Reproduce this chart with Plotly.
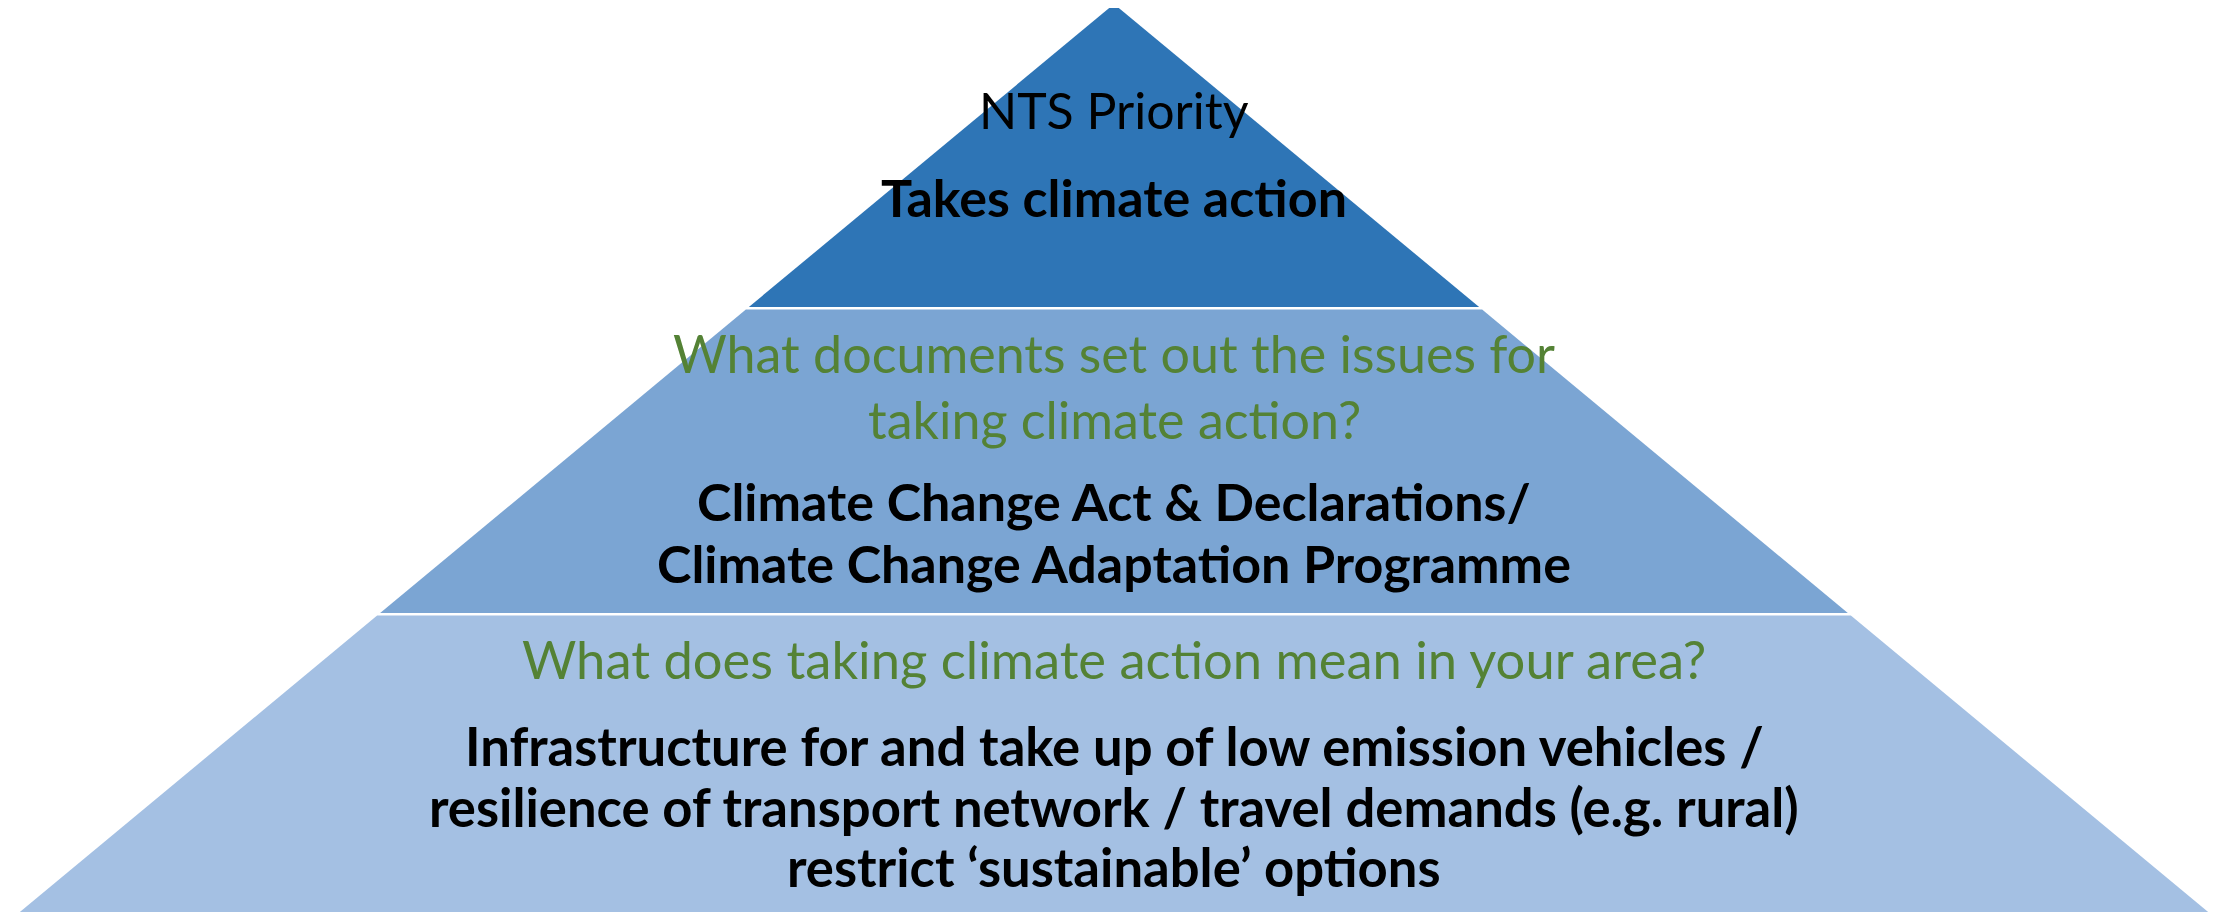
import plotly.graph_objects as go

# ---- data ----
layer_names = ["NTS Priority", "Documents", "Local meaning"]
layer_colors = ["#2E75B6", "#7BA5D3", "#A4C0E3"]
layer_tops = [4, 309.5, 615.5]
layer_bottoms = [307, 613, 925]

line_texts = [
    "NTS Priority",
    "Takes climate action",
    "What documents set out the issues for",
    "taking climate action?",
    "Climate Change Act & Declarations/",
    "Climate Change Adaptation Programme",
    "What does taking climate action mean in your area?",
    "Infrastructure for and take up of low emission vehicles /",
    "resilience of transport network / travel demands (e.g. rural)",
    "restrict \u2018sustainable\u2019 options",
]
line_kinds = ["plain", "bold", "question", "question", "bold", "bold",
              "question2", "bold2", "bold2", "bold2"]

# ---- geometry / style ----
W, H = 2224, 912
PAGE_OFFSET = 8  # default body margin of the html page
apex_x, apex_y = 1114, 4
slope = 1.205  # half-width gained per pixel downward
line_y = [110, 197, 353, 419, 501, 563, 658, 745, 806, 866]

def half_width(y):
    return max(0.0, (y - apex_y) * slope)

fig = go.Figure()
for name, col, yt, yb in zip(layer_names, layer_colors, layer_tops, layer_bottoms):
    ht, hb = half_width(yt), half_width(yb)
    xs = [apex_x - ht, apex_x + ht, apex_x + hb, apex_x - hb, apex_x - ht]
    ys = [yt, yt, yb, yb, yt]
    fig.add_trace(go.Scatter(x=xs, y=ys, mode="lines", fill="toself",
                             fillcolor=col, line=dict(width=0, color=col),
                             name=name, hoverinfo="skip", showlegend=False))

styles = {
    "plain": dict(color="#000000", size=50, bold=False),
    "bold": dict(color="#000000", size=52, bold=True),
    "question": dict(color="#548235", size=52, bold=False),
    "question2": dict(color="#548235", size=52.5, bold=False),
    "bold2": dict(color="#000000", size=52.6, bold=True),
}
for txt, kind, y in zip(line_texts, line_kinds, line_y):
    st = styles[kind]
    fig.add_annotation(x=apex_x, y=y, xref="x", yref="y",
                       text=f"<b>{txt}</b>" if st["bold"] else txt,
                       showarrow=False, xanchor="center", yanchor="middle",
                       font=dict(family="Lato", size=st["size"], color=st["color"]))

fig.update_layout(width=W, height=H, margin=dict(l=0, r=0, t=0, b=0),
                  paper_bgcolor="white", plot_bgcolor="white")
fig.update_xaxes(range=[PAGE_OFFSET, W + PAGE_OFFSET], visible=False, fixedrange=True)
fig.update_yaxes(range=[H + PAGE_OFFSET, PAGE_OFFSET], visible=False, fixedrange=True)
fig.write_html("out.html", config={"displayModeBar": False})
